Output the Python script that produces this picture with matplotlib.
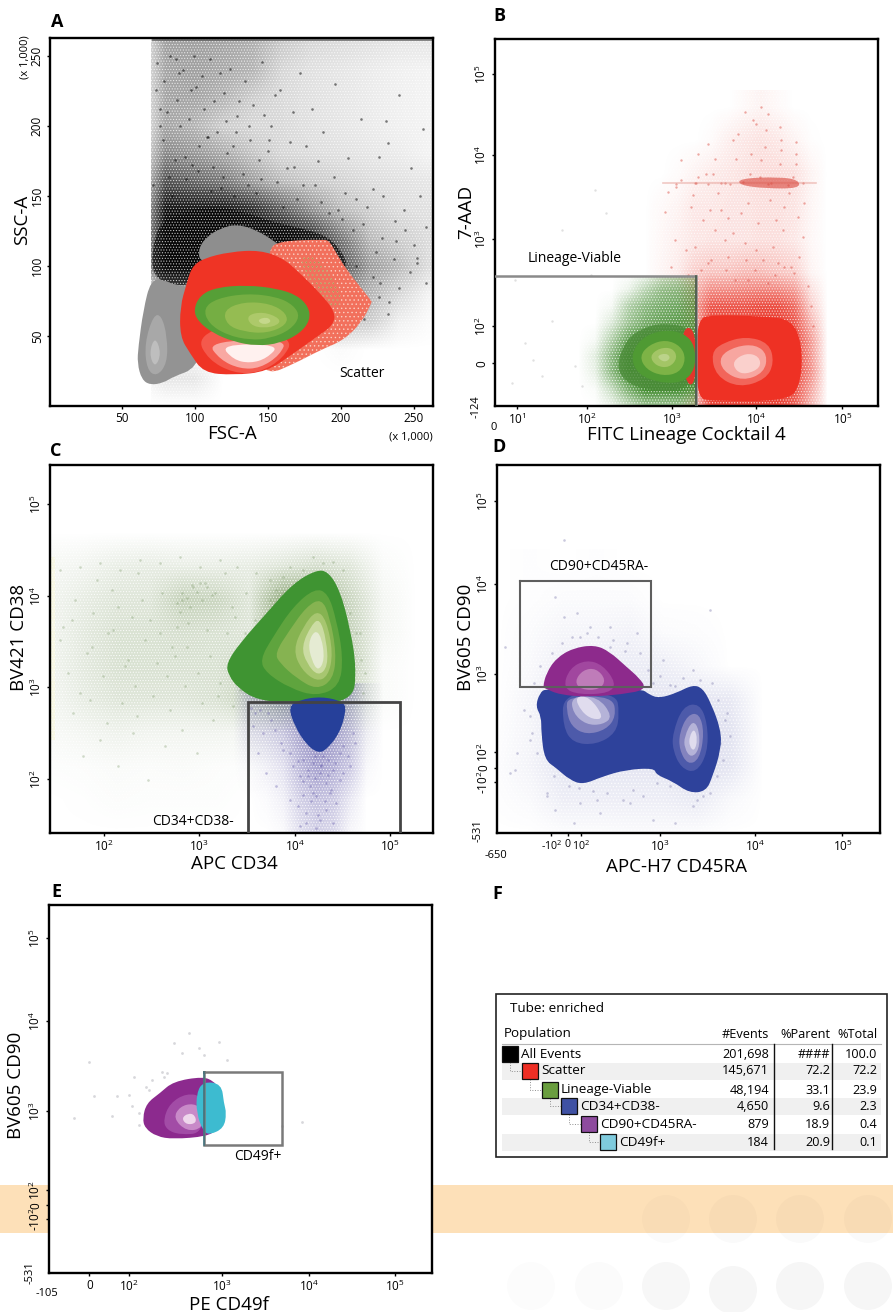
#!/usr/bin/env python3
"""Flow cytometry gating figure: five density plots and a population table."""

import matplotlib
matplotlib.use("Agg")
import matplotlib.pyplot as plt
from matplotlib.colors import LinearSegmentedColormap
from matplotlib.patches import Circle, PathPatch, Rectangle
from matplotlib.path import Path

plt.rcParams["font.family"] = ["Open Sans", "DejaVu Sans"]
plt.rcParams["mathtext.fontset"] = "custom"
plt.rcParams["mathtext.rm"] = "Open Sans"
plt.rcParams["mathtext.default"] = "regular"
plt.rcParams["hatch.linewidth"] = 0.5

W, H = 893, 1312

# Panel A, scale values in thousands
A_XTICKS = [50, 100, 150, 200, 250]
A_YTICKS = [50, 100, 150, 200, 250]
A_DENSITY_X = [40, 60, 80, 100, 120, 140, 160, 180, 200, 220, 240, 260]
A_DENSITY_Y = [260, 240, 220, 200, 180, 160, 140, 120, 100, 80, 60, 40, 20, 0]
A_DENSITY = [  # darkness of the event cloud, rows follow A_DENSITY_Y
    [0, 0, .38, .38, .36, .32, .22, .16, .14, .12, .10, .10],
    [0, 0, .36, .38, .34, .30, .16, .12, .10, .08, .06, .05],
    [0, 0, .36, .36, .30, .20, .15, .12, .10, .08, .06, .05],
    [0, 0, .36, .30, .20, .16, .15, .12, .10, .08, .06, .05],
    [0, 0, .48, .42, .34, .24, .16, .14, .12, .10, .08, .05],
    [0, 0, .70, .62, .55, .40, .28, .22, .18, .14, .12, .10],
    [0, .02, .95, .95, .95, .85, .65, .45, .28, .20, .14, .12],
    [0, .05, 1, 1, 1, .95, 1, .85, .55, .28, .20, .14],
    [0, .05, 1, 1, .80, .60, .80, .95, .70, .40, .28, .14],
    [0, 0, .05, .30, .20, .20, .40, .50, .45, .30, .16, .05],
    [0, 0, .03, .05, .05, .05, .10, .15, .25, .20, .06, .02],
    [0, 0, .02, 0, 0, 0, 0, 0, .02, 0, 0, 0],
    [0, 0, .10, .10, 0, 0, 0, 0, 0, 0, 0, 0],
    [0, 0, 0, 0, 0, 0, 0, 0, 0, 0, 0, 0],
]
A_CLOUD_CLIP = (70, 0, 193, 263)
A_BLACK_BAND = [(70.3, 92.4), (71.5, 118.6), (78.3, 132.9), (103.5, 142.4), (126.3, 141.2), (156, 130.5),
                (178.9, 125.7), (194.9, 118.6), (206.3, 99.5), (194.9, 99.5), (160.6, 118.6), (126.3, 132.9),
                (101.2, 113.8), (98.9, 87.6), (87.5, 85.7)]
A_EVENTS_X = [74, 79, 83, 88, 92, 96, 101, 106, 110, 115, 120, 124, 129, 134, 140, 146, 152, 158, 165, 172,
              180, 188, 196, 205, 214, 222, 232, 240, 248, 256, 78, 86, 94, 103, 112, 122, 133, 144, 156, 168,
              182, 195, 210, 226, 243, 76, 90, 108, 128, 150, 176, 203, 231, 254, 82, 98, 118, 142, 170, 198,
              215, 228, 237, 250, 258, 210, 222, 236, 247, 258, 226, 240, 252, 216, 232, 73, 81, 89, 97, 105,
              113, 121, 130, 138, 147, 155, 163, 71, 84, 93, 102, 111, 119, 127, 136, 145, 160, 174, 186, 201,
              218, 229, 244, 76, 87, 99, 109, 117, 126, 137, 151, 167, 184, 192, 208, 224, 238, 252, 227, 233]
A_EVENTS_Y = [245, 232, 250, 219, 240, 205, 228, 212, 248, 196, 224, 241, 207, 232, 215, 246, 200, 226, 189, 238,
              212, 196, 230, 177, 205, 155, 188, 222, 170, 198, 190, 176, 162, 186, 171, 181, 166, 176, 160, 171,
              158, 164, 148, 178, 140, 212, 200, 192, 196, 182, 186, 152, 204, 150, 164, 172, 156, 152, 148, 140,
              130, 120, 132, 115, 128, 100, 92, 105, 96, 88, 78, 84, 102, 62, 66, 226, 210, 238, 226, 236,
              218, 204, 218, 190, 208, 222, 170, 158, 150, 178, 168, 154, 164, 150, 158, 162, 142, 158, 146, 134,
              142, 150, 126, 200, 248, 250, 192, 238, 186, 200, 190, 210, 175, 138, 126, 110, 118, 106, 88, 74]
A_TOP_LINE_X = [71, 263]
A_TOP_LINE_Y = [261.5, 261.5]
A_GRAY_LEFT = [[(69.7, 90), (64.6, 68.6), (61.2, 42.4), (60.5, 30.5), (63.5, 19), (69.2, 15), (78.3, 16.5),
                (85.2, 21), (101, 27), (108, 52), (103.5, 85), (87.5, 85.7), (78.3, 90.5)],
               [(71.5, 65), (65.5, 44.8), (67, 26), (73.8, 21), (81, 30.5), (81, 49.5), (77, 65)],
               [(72.6, 50), (68.5, 37.6), (72.6, 27), (77, 37.6)]]
A_GRAY_COLORS = ["#939393", "#A8A8A8", "#BEBEBE"]
A_GRAY_TOP = [(102.3, 112.6), (108, 121), (117.2, 126.9), (128.6, 130), (142.3, 125.7), (154.9, 117.4),
              (165.2, 109), (160.6, 99.5), (126.3, 101.9), (103.5, 101.9)]
A_FRINGE = [(150, 112), (158.3, 118), (188, 119), (192, 118), (197, 109), (204, 97), (221, 75), (221, 74),
            (214.3, 60), (201.8, 47), (185.8, 40), (167.5, 30), (149.2, 22), (140, 40), (150, 80)]
A_FRINGE_TAN = [(167.5, 108), (183.5, 108), (201.8, 80.5), (196, 63.8)]
A_RED_LAYERS = [[(97.8, 99.5), (105.8, 105.5), (124, 110.2), (144.6, 111.4), (160.6, 105.5), (172, 94.8),
                 (185.8, 80.5), (196, 67.4), (194.9, 57.9), (183.5, 49.5), (167.5, 37.6), (149.2, 24.5),
                 (126.3, 22.1), (105.8, 23.8), (96.6, 37.6), (89.8, 49.5), (89.8, 71), (94.3, 87.6)],
                [(101.2, 49), (109.2, 33), (126.3, 23.5), (143.5, 23.5), (160.6, 34), (167.5, 49), (126.3, 60)],
                [(108, 46), (117.2, 33), (130.9, 26.5), (144.6, 27), (158.3, 36.5), (162.9, 48)],
                [(117.2, 44), (126.3, 33), (137.8, 30.5), (149.2, 34), (158.3, 44)]]
A_RED_COLORS = ["#EF3425", "#F4594C", "#F9A8A2", "#FFF1EF"]
A_GREEN_LAYERS = [[(98.9, 68.6), (103.5, 79.3), (114.9, 84.8), (135.5, 86.4), (156, 84), (169.8, 79.3), (177.8, 71),
                   (178.9, 61.4), (172, 51.9), (158.3, 44.8), (142.3, 42.9), (126.3, 46), (112.6, 51.9), (102.3, 60.2)],
                  [(105.8, 69.8), (114.9, 76.9), (135.5, 80.5), (156, 78.1), (167.5, 72.1), (172, 63.8), (165.2, 54.3),
                   (151.5, 48.3), (137.8, 47.1), (121.8, 50.7), (109.2, 59)],
                  [(119.5, 68.6), (133.2, 74.5), (151.5, 73.3), (162.9, 66.2), (162.9, 57.9), (149.2, 51.9),
                   (133.2, 53.1), (121.8, 57.9)],
                  [(135.5, 65), (146.9, 67.4), (158.3, 62.6), (157.2, 57.9), (146.9, 55.5), (137.8, 57.9)],
                  [(142.3, 61.4), (149.2, 63.8), (152.7, 60.2), (146.9, 57.9)]]
A_GREEN_COLORS = ["#569F37", "#75AE43", "#95BC52", "#ADC96A", "#C5D88B"]

# Panel B, display channels
B_XTICKS = [66, 277, 531, 784, 1044]
B_YTICKS = [128, 240, 503, 755, 1000]
B_GATE_X = [0, 604, 604]
B_GATE_Y = [392, 392, 0]
B_RED_GRID_X = [450, 500, 550, 600, 650, 700, 750, 800, 850, 900, 950, 1000]
B_RED_GRID_Y = [900, 800, 700, 600, 500, 400, 300, 200, 100, 0]
B_RED_GRID = [
    [0, 0, 0, 0, 0, 0, .03, .06, .03, 0, 0, 0],
    [0, 0, 0, 0, .02, .08, .12, .15, .12, .06, .01, 0],
    [0, 0, .02, .06, .10, .12, .15, .18, .18, .16, .06, 0],
    [0, .03, .06, .12, .12, .14, .14, .16, .16, .14, .05, 0],
    [0, .04, .08, .12, .14, .14, .14, .16, .16, .12, .04, 0],
    [0, .05, .10, .25, .30, .30, .35, .35, .30, .25, .06, 0],
    [0, 0, 0, .45, .85, .85, .85, .90, .90, .75, .25, 0],
    [0, 0, 0, .30, 1, 1, 1, 1, 1, .95, .50, 0],
    [0, 0, 0, .30, 1, 1, 1, 1, 1, .95, .55, 0],
    [0, 0, 0, .30, .95, .95, .95, .95, .95, .80, .35, 0],
]
B_GREEN_GRID_X = [250, 300, 350, 400, 450, 500, 550, 600]
B_GREEN_GRID_Y = [400, 350, 300, 250, 200, 150, 100, 50, 0]
B_GREEN_GRID = [
    [0, 0, 0, 0, .04, .20, .30, .30],
    [0, 0, 0, .10, .35, .55, .60, .60],
    [0, 0, .05, .40, .60, .70, .75, .75],
    [0, 0, .18, .50, .70, .80, .85, .80],
    [0, .04, .40, .80, 1, 1, 1, .90],
    [0, .15, .60, 1, 1, 1, 1, 1],
    [0, .12, .60, 1, 1, 1, 1, 1],
    [0, .03, .30, .70, 1, 1, 1, .85],
    [0, 0, .10, .30, .50, .50, .50, .40],
]
B_GREEN_CLIP = (0, 0, 604, 392)
B_GREEN_DARK = [(364, 120), (394, 200), (444, 235), (504, 250), (599, 235), (599, 70), (534, 42), (454, 50), (394, 70)]
B_RED_STRIPE = [(734, 685), (854, 690), (914, 680), (914, 655), (814, 655), (734, 665)]
B_STRIPE_X = [504, 964]
B_STRIPE_Y = [670, 670]
B_RED_LAYERS = [[(604, 260), (654, 275), (804, 270), (894, 260), (924, 180), (919, 70), (884, 15), (654, 15), (604, 25)],
                [(649, 160), (684, 190), (754, 210), (824, 190), (839, 130), (814, 80), (734, 55), (664, 90)],
                [(674, 150), (724, 180), (784, 185), (819, 155), (809, 100), (744, 75), (684, 105)],
                [(714, 135), (754, 160), (794, 150), (799, 115), (754, 95), (724, 105)]]
B_RED_COLORS = ["#EE3124", "#F2655A", "#F7A6A0", "#FAD0CC"]
B_RED_WEDGE = [(559, 235), (604, 235), (604, 60), (569, 70)]
B_GREEN_LAYERS = [[(407, 150), (439, 205), (504, 230), (569, 220), (602, 180), (602, 110), (564, 70), (494, 70), (429, 95)],
                  [(434, 150), (464, 185), (514, 200), (559, 180), (574, 140), (554, 100), (504, 90), (454, 110)],
                  [(464, 150), (494, 175), (534, 175), (549, 145), (524, 115), (484, 120)],
                  [(484, 150), (514, 160), (529, 145), (509, 130)]]
B_GREEN_COLORS = ["#4F9A33", "#7DB346", "#A3C566", "#BBD38A"]
B_RED_EVENTS_X = [520, 560, 605, 640, 690, 730, 775, 820, 860, 905, 540, 590, 625, 670, 715, 760, 800, 845, 885, 925,
                  530, 575, 620, 660, 700, 750, 790, 835, 870, 915, 560, 610, 655, 705, 745, 795, 830, 880, 925, 905,
                  580, 650, 720, 780, 840, 890, 700, 760, 820, 870, 940, 950, 955, 510, 545, 595, 635, 680, 725, 765,
                  810, 855, 895, 930, 600, 645, 690, 740, 785, 825, 865, 910, 640, 695, 755, 805, 850, 900, 610, 660,
                  715, 770, 815, 860, 905, 750, 785, 820, 855, 800, 680, 640, 600, 545]
B_RED_EVENTS_Y = [645, 740, 670, 790, 672, 820, 860, 668, 800, 730, 500, 600, 560, 640, 520, 610, 740, 560, 640, 510,
                  420, 470, 410, 530, 450, 490, 550, 480, 420, 450, 680, 690, 700, 668, 675, 690, 672, 665, 672, 795,
                  395, 440, 380, 410, 395, 420, 565, 380, 370, 600, 360, 300, 240, 585, 660, 635, 700, 590, 745, 700,
                  780, 730, 690, 610, 480, 590, 500, 580, 470, 620, 530, 570, 430, 410, 440, 440, 430, 400, 760, 745,
                  800, 760, 830, 770, 760, 885, 850, 880, 840, 900, 670, 668, 672, 668]
B_FAINT_X = [90, 140, 170, 200, 115, 50, 260, 300, 335, 240, 60, 290]
B_FAINT_Y = [190, 90, 255, 530, 140, 70, 60, 650, 580, 120, 380, 395]

# Panel C, display channels
C_XTICKS = [163, 448, 735, 1022]
C_YTICKS = [162, 438, 712, 988]
C_GATE_X = [595, 595, 1050, 1050]
C_GATE_Y = [0, 392, 392, 0]
C_GREEN_GRID_X = [0, 100, 200, 300, 400, 500, 600, 700, 800, 900, 1000, 1100]
C_GREEN_GRID_Y = [900, 800, 700, 600, 500, 400, 300, 200, 100, 0]
C_GREEN_GRID = [
    [0, 0, 0, 0, 0, 0, 0, 0, 0, 0, 0, 0],
    [.08, .12, .20, .22, .20, .20, .22, .30, .40, .30, .05, 0],
    [.12, .22, .30, .30, .55, .50, .30, 1, 1, .50, .10, 0],
    [.12, .25, .35, .35, .38, .35, .30, 1, 1, .55, .10, 0],
    [.12, .25, .35, .35, .35, .35, .45, 1, 1, .60, .05, 0],
    [.10, .22, .30, .30, .30, .35, .50, .90, .90, .50, .05, 0],
    [.06, .10, .15, .12, .12, .12, .10, .05, .10, .10, 0, 0],
    [.02, .03, .05, .04, .05, .03, .02, 0, 0, 0, 0, 0],
    [0, .01, .03, .02, .02, .02, 0, 0, 0, 0, 0, 0],
    [0, 0, 0, 0, 0, 0, 0, 0, 0, 0, 0, 0],
]
C_BLUE_GRID_X = [550, 600, 650, 700, 750, 800, 850, 900, 950, 1000]
C_BLUE_GRID_Y = [400, 300, 200, 100, 0]
C_BLUE_GRID = [
    [0, .30, .30, .40, .50, .50, .50, .40, .10, 0],
    [0, .18, .25, .35, .55, .70, .60, .40, .10, 0],
    [0, .03, .10, .20, .45, .60, .50, .35, .05, 0],
    [0, 0, .03, .10, .30, .40, .35, .15, 0, 0],
    [0, 0, 0, .03, .20, .30, .25, .05, 0, 0],
]
C_GREEN_LAYERS = [[(530, 510), (570, 570), (650, 660), (730, 750), (800, 790), (835, 785), (870, 730), (900, 620),
                   (920, 500), (910, 390), (720, 390), (620, 400), (565, 435), (535, 475)],
                  [(630, 520), (670, 590), (730, 680), (795, 735), (835, 720), (860, 640), (880, 530), (870, 440),
                   (800, 410), (720, 435), (650, 480)],
                  [(675, 540), (720, 610), (770, 680), (815, 705), (840, 650), (860, 540), (850, 460), (800, 430),
                   (740, 465), (690, 510)],
                  [(730, 550), (760, 620), (800, 670), (830, 640), (850, 540), (835, 470), (800, 455), (755, 490)],
                  [(755, 560), (785, 625), (810, 645), (830, 580), (835, 500), (805, 470), (770, 510)],
                  [(775, 570), (795, 610), (815, 590), (825, 520), (805, 485), (785, 520)]]
C_GREEN_COLORS = ["#3F9432", "#5FA43E", "#86B351", "#A7C670", "#CBDCA3", "#E5EBD3"]
C_BLUE = [(715, 380), (750, 400), (815, 410), (880, 395), (890, 370), (870, 300), (830, 250), (805, 240), (770, 265), (735, 320)]
C_GREEN_EVENTS_X = [40, 75, 110, 140, 175, 205, 235, 265, 300, 335, 365, 395, 430, 465, 495, 525, 555, 585, 625, 660,
                    55, 90, 125, 160, 190, 225, 255, 285, 320, 350, 380, 410, 445, 480, 510, 540, 570, 600, 640, 680,
                    70, 120, 170, 215, 260, 310, 360, 405, 455, 505, 550, 600, 650, 720, 790, 850, 900, 935, 940, 930,
                    100, 150, 205, 250, 295, 345, 395, 440, 490, 380, 395, 410, 425, 440, 455, 470, 485, 390, 420, 450,
                    30, 65, 130, 185, 245, 275, 330, 375, 415, 470, 530, 575, 615, 545, 590, 630, 30, 90, 150, 210,
                    270, 330, 390, 450, 510, 560, 620, 660, 700, 760, 820, 880, 920, 945]
C_GREEN_EVENTS_Y = [620, 700, 540, 760, 600, 680, 520, 780, 640, 720, 560, 700, 740, 750, 720, 780, 650, 600, 560, 700,
                    480, 420, 560, 470, 610, 500, 440, 580, 510, 470, 620, 560, 480, 530, 450, 520, 430, 480, 440, 730,
                    360, 400, 330, 390, 350, 410, 370, 440, 390, 410, 380, 420, 400, 800, 830, 815, 660, 520, 420, 600,
                    230, 280, 200, 300, 160, 260, 310, 240, 340, 690, 720, 705, 745, 725, 700, 740, 715, 665, 680, 750,
                    580, 640, 660, 730, 650, 700, 600, 530, 630, 610, 600, 560, 640, 680, 720, 470, 790, 800, 810, 790,
                    820, 810, 830, 800, 820, 800, 780, 760, 770, 790, 810, 790, 600, 480]
C_BLUE_EVENTS_X = [615, 640, 665, 700, 730, 760, 790, 820, 850, 880, 910, 625, 680, 720, 750, 780, 810, 840, 870, 900,
                   745, 770, 800, 830, 860, 770, 810, 850, 790, 830, 610, 650, 750, 800, 870, 605, 630, 655, 675, 695,
                   720, 745, 775, 795, 815, 835, 855, 880, 895, 915, 760, 785, 805, 825, 845, 775, 795, 815, 835, 760]
C_BLUE_EVENTS_Y = [360, 300, 340, 250, 200, 220, 210, 230, 190, 260, 300, 240, 140, 100, 170, 140, 180, 120, 160, 200,
                   80, 60, 110, 70, 90, 30, 40, 30, 120, 150, 320, 180, 20, 15, 240, 375, 370, 360, 310, 270,
                   240, 215, 190, 165, 205, 175, 210, 180, 230, 270, 115, 95, 55, 95, 130, 170, 230, 200, 220, 155]

# Panel D, display channels
D_XTICKS = [163, 213, 251, 491, 776, 1038]
D_YTICKS = [152, 195, 243, 477, 748, 997]
D_GATE_X = [69, 462, 462, 69, 69]
D_GATE_Y = [756, 756, 438, 438, 756]
D_GRID_X = [0, 100, 200, 300, 400, 500, 600, 700, 800]
D_GRID_Y = [800, 700, 600, 500, 400, 300, 200, 100, 0]
D_GRID = [
    [0, .01, 0, .01, 0, 0, 0, 0, 0],
    [0, .01, .03, .03, .03, 0, 0, 0, 0],
    [0, .03, .07, .07, .09, .03, .02, 0, 0],
    [0, .04, .12, .12, .14, .12, .06, 0, 0],
    [0, .07, .18, .18, .18, .18, .18, .16, 0],
    [.01, .07, .18, .18, .18, .18, .24, .20, 0],
    [.02, .08, .18, .18, .18, .18, .24, .18, 0],
    [.01, .04, .12, .12, .12, .12, .15, .05, 0],
    [0, 0, .02, .02, .03, .03, .02, 0, 0],
]
D_BLUE = [(116, 380), (128, 420), (148, 435), (433, 435), (458, 415), (488, 405), (538, 420), (588, 445), (618, 435),
          (643, 390), (673, 310), (673, 250), (648, 170), (628, 125), (578, 120), (528, 155), (478, 175), (473, 195),
          (388, 190), (318, 170), (258, 145), (218, 160), (178, 195), (143, 220), (133, 300), (133, 350)]
D_BLUE_LEFT = [[(198, 420), (358, 420), (368, 360), (358, 300), (298, 265), (228, 270), (198, 320)],
               [(213, 410), (348, 410), (358, 350), (328, 310), (268, 295), (223, 320), (208, 370)],
               [(223, 410), (303, 410), (348, 350), (318, 325), (268, 325), (228, 360)],
               [(233, 410), (278, 410), (323, 345), (288, 340), (253, 365)]]
D_BLUE_RIGHT = [[(528, 300), (558, 380), (608, 390), (633, 330), (633, 240), (598, 180), (553, 195), (528, 250)],
                [(548, 300), (573, 355), (608, 360), (623, 300), (608, 220), (573, 205), (548, 250)],
                [(563, 290), (588, 340), (608, 310), (608, 250), (583, 225), (563, 255)],
                [(578, 290), (593, 315), (603, 280), (593, 245), (578, 260)]]
D_BLUE_COLORS = ["#4D5AAA", "#8383BE", "#B5B3D8", "#E0DCEE"]
D_PURPLE_LAYERS = [[(138, 438), (148, 480), (178, 525), (228, 555), (293, 565), (338, 545), (388, 500), (428, 465),
                    (448, 435), (408, 420), (278, 408), (188, 415), (143, 435)],
                   [(198, 435), (218, 495), (268, 520), (318, 505), (358, 450), (338, 420), (248, 415)],
                   [(233, 455), (258, 490), (298, 495), (328, 460), (308, 430), (253, 430)]]
D_PURPLE_COLORS = ["#8D2A8C", "#A1479F", "#BF7CB9"]
D_EVENTS_X = [25, 60, 40, 55, 80, 100, 150, 200, 175, 240, 340, 250, 200, 280, 340, 390, 420, 470, 500, 535, 590, 640,
              650, 690, 670, 640, 150, 175, 245, 250, 310, 400, 470, 535, 590, 230, 440, 110, 130, 165, 195, 225, 270,
              305, 350, 385, 430, 455, 490, 520, 560, 610, 645, 665, 685, 700, 680, 660, 620, 560, 480, 410, 330, 290,
              215, 170, 120, 105, 100, 300, 380, 520, 600]
D_EVENTS_Y = [560, 240, 180, 190, 370, 280, 120, 880, 710, 660, 620, 590, 650, 620, 560, 570, 600, 450, 520, 440, 490,
              670, 360, 360, 270, 120, 110, 70, 135, 90, 60, 90, 40, 30, 80, 30, 110, 450, 500, 540, 570, 590, 600,
              590, 580, 545, 540, 490, 470, 445, 465, 460, 450, 400, 340, 290, 220, 170, 110, 140, 150, 130, 120, 125,
              140, 170, 240, 300, 350, 100, 100, 140, 100]

# Panel E, display channels
E_XTICKS = [121, 241, 518, 781, 1038]
E_YTICKS = [162, 203, 250, 485, 757, 1005]
E_GATE_X = [465, 699, 699, 465, 465]
E_GATE_Y = [603, 603, 385, 385, 603]
E_GATE_EDGE_X = [465, 465]
E_GATE_EDGE_Y = [385, 603]
E_PURPLE_LAYERS = [[(281, 465), (293, 510), (333, 540), (373, 575), (463, 590), (495, 575), (505, 560), (505, 480),
                    (505, 430), (473, 410), (373, 402), (323, 410), (288, 435)],
                   [(343, 460), (363, 510), (413, 540), (463, 530), (463, 420), (393, 415), (353, 430)],
                   [(373, 465), (393, 500), (433, 510), (463, 490), (463, 435), (413, 425)],
                   [(398, 465), (418, 480), (438, 475), (443, 450), (413, 445)]]
E_PURPLE_COLORS = ["#8C2A8E", "#A24CA6", "#C88AC8", "#EFD7EC"]
E_CYAN = [(443, 540), (463, 575), (518, 568), (525, 510), (533, 480), (525, 435), (483, 415), (463, 425), (443, 480)]
E_EVENTS_X = [75, 120, 135, 190, 205, 240, 255, 270, 290, 340, 375, 420, 450, 465, 510, 535, 355, 310, 400, 700, 760,
              250, 300, 345, 270, 310]
E_EVENTS_Y = [465, 635, 530, 470, 530, 535, 590, 480, 560, 605, 690, 720, 675, 655, 695, 640, 600, 440, 660, 440, 452,
              500, 550, 590, 445, 580]

# Panel F table
TABLE_NAMES = ["All Events", "Scatter", "Lineage-Viable", "CD34+CD38-", "CD90+CD45RA-", "CD49f+"]
TABLE_EVENTS = ["201,698", "145,671", "48,194", "4,650", "879", "184"]
TABLE_PARENT = ["####", "72.2", "33.1", "9.6", "18.9", "20.9"]
TABLE_TOTAL = ["100.0", "72.2", "23.9", "2.3", "0.4", "0.1"]
TABLE_COLORS = ["#000000", "#EE2E24", "#6A9E3F", "#3F51A3", "#8E4B9E", "#7FCBDD"]
TABLE_ROW_Y = [1054, 1071, 1090, 1106, 1124, 1142]
TABLE_SWATCH_X = [502, 522, 542, 561, 581, 600]

POW = [r"$10^{%d}$" % n for n in range(0, 6)]

fig = plt.figure(figsize=(W / 100, H / 100), dpi=100, facecolor="white")


def smooth(points):
    """Closed shape with quadratic curves through the edge midpoints."""
    mids = [((points[i][0] + points[(i + 1) % len(points)][0]) / 2,
             (points[i][1] + points[(i + 1) % len(points)][1]) / 2) for i in range(len(points))]
    verts = [mids[-1]]
    codes = [Path.MOVETO]
    for i, p in enumerate(points):
        verts += [p, mids[i]]
        codes += [Path.CURVE3, Path.CURVE3]
    return Path(verts, codes)


def blob(ax, points, color, alpha=1.0, z=3):
    ax.add_patch(PathPatch(smooth(points), fc=color, ec="none", lw=0, alpha=alpha, zorder=z))


def layers(ax, shapes, colors, z=3):
    for shape, color in zip(shapes, colors):
        blob(ax, shape, color, z=z)


def haze(ax, grid, xs, ys, color, clip=None, z=1):
    cmap = LinearSegmentedColormap.from_list("haze", [color + "00", color + "FF"])
    dx = (xs[1] - xs[0]) / 2
    dy = (ys[0] - ys[1]) / 2
    xlim, ylim = ax.get_xlim(), ax.get_ylim()
    im = ax.imshow(grid, cmap=cmap, vmin=0, vmax=1, aspect="auto", interpolation="bilinear",
                   extent=(xs[0] - dx, xs[-1] + dx, ys[-1] - dy, ys[0] + dy), zorder=z)
    if clip:
        im.set_clip_path(Rectangle(clip[:2], clip[2], clip[3], transform=ax.transData))
    ax.set_xlim(*xlim)
    ax.set_ylim(*ylim)


def grain(ax, hatch="......", z=1.5, alpha=0.8):
    # white specks break the cloud up, they do not show on the empty page
    ax.add_patch(Rectangle((0, 0), 1, 1, transform=ax.transAxes, fc="none", ec="white", lw=0,
                           hatch=hatch, alpha=alpha, zorder=z))


def panel(box, xlim, ylim, xticks, xlabels, yticks, ylabels, xlabel, xlabel_at, ylabel, ylabel_at):
    left, top, right, bottom = box
    ax = fig.add_axes([left / W, 1 - bottom / H, (right - left) / W, (bottom - top) / H], zorder=5)
    ax.set_xlim(*xlim)
    ax.set_ylim(*ylim)
    ax.set_xticks(xticks, xlabels, fontsize=8.5)
    ax.set_yticks(yticks, ylabels, fontsize=8.5, rotation=90, va="center")
    ax.tick_params(length=2.5, width=1, pad=2)
    for spine in ax.spines.values():
        spine.set_linewidth(1.7)
    ax.set_xlabel(xlabel, fontsize=13.5)
    ax.set_ylabel(ylabel, fontsize=13.5)
    ax.xaxis.set_label_coords((xlabel_at[0] - left) / (right - left), (bottom - xlabel_at[1]) / (bottom - top))
    ax.yaxis.set_label_coords((ylabel_at[0] - left) / (right - left), (bottom - ylabel_at[1]) / (bottom - top))
    ax.xaxis.label.set_verticalalignment("center")
    ax.yaxis.label.set_verticalalignment("center")
    return ax


def events(ax, xs, ys, color, alpha=0.4, size=2.5, z=2):
    ax.scatter(xs, ys, s=size, c=color, alpha=alpha, linewidths=0, zorder=z)


# page background
bg = fig.add_axes([0, 0, 1, 1], zorder=0)
bg.set_xlim(0, W)
bg.set_ylim(H, 0)
bg.axis("off")
bg.add_patch(Rectangle((0, 1185), W, 48, fc="#FDE0B8", ec="none"))
for cx, cy, alpha in [(666, 1219, .015), (733, 1219, .02), (800, 1219, .02), (868, 1219, .02),
                      (531, 1286, .012), (599, 1286, .015), (666, 1286, .03), (733, 1290, .035),
                      (800, 1286, .035), (868, 1286, .035)]:
    bg.add_patch(Circle((cx, cy), 24, fc="black", ec="none", alpha=alpha))

# Panel A
ax = panel((50, 38, 433, 406), (0.7, 263), (0, 263), A_XTICKS, [str(t) for t in A_XTICKS],
           A_YTICKS, [str(t) for t in A_YTICKS], "FSC-A", (232, 434), "SSC-A", (22, 220))
haze(ax, A_DENSITY, A_DENSITY_X, A_DENSITY_Y, "#050505", clip=A_CLOUD_CLIP)
blob(ax, A_BLACK_BAND, "#080808", alpha=0.7, z=1.2)
grain(ax, "......", alpha=0.7)
events(ax, A_EVENTS_X, A_EVENTS_Y, "black", alpha=0.5, size=3.5)
ax.plot(A_TOP_LINE_X, A_TOP_LINE_Y, color="#5A5A5A", lw=1.4, alpha=0.7, zorder=2)
layers(ax, A_GRAY_LEFT, A_GRAY_COLORS)
blob(ax, A_GRAY_TOP, "#8E8E8E")
blob(ax, A_FRINGE, "#F2705C")
ax.add_patch(PathPatch(smooth(A_FRINGE), fc="none", ec="#FBD0C4", lw=0, hatch="....", zorder=3))
ax.add_patch(PathPatch(smooth(A_FRINGE_TAN), fc="none", ec="#A59A4F", lw=0, hatch="....", alpha=0.9, zorder=3))
layers(ax, A_RED_LAYERS, A_RED_COLORS)
layers(ax, A_GREEN_LAYERS, A_GREEN_COLORS)
ax.text(199, 23, "Scatter", fontsize=10, ha="left", va="center", zorder=6)

# Panel B
ax = panel((495, 39, 878, 406), (0, 1151), (0, 1105), B_XTICKS, [POW[n] for n in range(1, 6)],
           B_YTICKS, ["0"] + [POW[n] for n in range(2, 6)], "FITC Lineage Cocktail 4", (686, 435), "7-AAD", (466, 212))
haze(ax, B_RED_GRID, B_RED_GRID_X, B_RED_GRID_Y, "#E9392C")
haze(ax, B_GREEN_GRID, B_GREEN_GRID_X, B_GREEN_GRID_Y, "#3F8A2C", clip=B_GREEN_CLIP, z=1.1)
grain(ax, "......", alpha=0.7)
events(ax, B_FAINT_X, B_FAINT_Y, "#9A9A9A", alpha=0.3, size=3)
events(ax, B_RED_EVENTS_X, B_RED_EVENTS_Y, "#D9453A", alpha=0.45, size=3)
ax.plot(B_STRIPE_X, B_STRIPE_Y, color="#E08A80", lw=1.2, alpha=0.45, zorder=2)
blob(ax, B_RED_STRIPE, "#D9453A", alpha=0.6)
layers(ax, B_RED_LAYERS[:1], B_RED_COLORS[:1])
blob(ax, B_GREEN_DARK, "#4C8C3A", alpha=0.8)
blob(ax, B_RED_WEDGE, "#E4352B")
layers(ax, B_GREEN_LAYERS, B_GREEN_COLORS)
layers(ax, B_RED_LAYERS[1:], B_RED_COLORS[1:])
ax.plot(B_GATE_X, B_GATE_Y, color="#8A8A8A", lw=1.8, zorder=4, solid_joinstyle="miter")
ax.plot(B_GATE_X[1:], B_GATE_Y[1:], color="#4A5A4A", lw=1.2, zorder=4)
ax.text(99, 445, "Lineage-Viable", fontsize=10, ha="left", va="center", zorder=6)

# Panel C
ax = panel((50, 465, 433, 833), (0, 1150), (0, 1105), C_XTICKS, [POW[n] for n in range(2, 6)],
           C_YTICKS, [POW[n] for n in range(2, 6)], "APC CD34", (234, 864), "BV421 CD38", (19, 637))
haze(ax, C_GREEN_GRID, C_GREEN_GRID_X, C_GREEN_GRID_Y, "#94AC80")
haze(ax, C_BLUE_GRID, C_BLUE_GRID_X, C_BLUE_GRID_Y, "#6A62AE", z=1.1)
ax.add_patch(Rectangle((0, 280), 14, 550, fc="#F8F8E4", ec="none", zorder=1))
grain(ax, "......", alpha=0.8)
events(ax, C_GREEN_EVENTS_X, C_GREEN_EVENTS_Y, "#7F9A6C", alpha=0.35, size=3.5)
events(ax, C_BLUE_EVENTS_X, C_BLUE_EVENTS_Y, "#6A62AE", alpha=0.4, size=3.5)
layers(ax, C_GREEN_LAYERS, C_GREEN_COLORS)
blob(ax, C_BLUE, "#26409A")
ax.plot(C_GATE_X, C_GATE_Y, color="#444444", lw=2, zorder=4, solid_joinstyle="miter")
ax.text(308, 35, "CD34+CD38-", fontsize=10, ha="left", va="center", zorder=6)

# Panel D
ax = panel((497, 465, 880, 833), (0, 1151), (0, 1105), D_XTICKS,
           ["-" + POW[2], "0", POW[2], POW[3], POW[4], POW[5]],
           D_YTICKS, ["-" + POW[2], "0", POW[2], POW[3], POW[4], POW[5]],
           "APC-H7 CD45RA", (676, 867), "BV605 CD90", (466, 637))
for tick_label in ax.get_xticklabels()[:3]:
    tick_label.set_fontsize(7.6)
haze(ax, D_GRID, D_GRID_X, D_GRID_Y, "#6E72B8")
grain(ax, ".....", alpha=0.8)
events(ax, D_EVENTS_X, D_EVENTS_Y, "#8A88B5", alpha=0.45, size=3.5)
blob(ax, D_BLUE, "#2E429B")
layers(ax, D_BLUE_LEFT, D_BLUE_COLORS)
layers(ax, D_BLUE_RIGHT, D_BLUE_COLORS)
layers(ax, D_PURPLE_LAYERS, D_PURPLE_COLORS)
ax.plot(D_GATE_X, D_GATE_Y, color="#5E5E5E", lw=1.5, zorder=4, solid_joinstyle="miter")
ax.text(158, 800, "CD90+CD45RA-", fontsize=10, ha="left", va="center", zorder=6)

# Panel E
ax = panel((49, 905, 432, 1273), (0, 1150), (0, 1105), E_XTICKS, ["0"] + [POW[n] for n in range(2, 6)],
           E_YTICKS, ["-" + POW[2], "0", POW[2], POW[3], POW[4], POW[5]],
           "PE CD49f", (229, 1305), "BV605 CD90", (16, 1085))
events(ax, E_EVENTS_X, E_EVENTS_Y, "#A8A8B0", alpha=0.45, size=4)
layers(ax, E_PURPLE_LAYERS, E_PURPLE_COLORS)
blob(ax, E_CYAN, "#3DBBD0")
ax.plot(E_GATE_X, E_GATE_Y, color="#7A7A7A", lw=1.8, zorder=4, solid_joinstyle="miter")
ax.plot(E_GATE_EDGE_X, E_GATE_EDGE_Y, color="#1F6F80", lw=1.2, alpha=0.6, zorder=4)
ax.text(555, 350, "CD49f+", fontsize=10, ha="left", va="center", zorder=6)

# letters, stray axis texts and the table sit on a top layer
top = fig.add_axes([0, 0, 1, 1], zorder=10)
top.patch.set_alpha(0)
top.set_xlim(0, W)
top.set_ylim(H, 0)
top.axis("off")
for letter, x, y in [("A", 57, 22), ("B", 499, 16), ("C", 56, 451), ("D", 499, 447), ("E", 56, 892), ("F", 497, 894)]:
    top.text(x, y, letter, fontsize=13, fontweight="bold", ha="center", va="center")
for text, x, y, rot in [("(x 1,000)", 25, 57, 90), ("(x 1,000)", 411, 437, 0), ("-124", 476, 407, 90), ("0", 494, 427, 0),
                        ("-531", 478, 831, 90), ("-650", 496, 855, 0), ("-531", 30, 1273, 90), ("-105", 47, 1293, 0)]:
    top.text(x, y, text, fontsize=8, rotation=rot, ha="center", va="center")

top.add_patch(Rectangle((496, 994), 391, 163, fc="white", ec="#222222", lw=1.2, zorder=1))
top.text(510, 1008, "Tube: enriched", fontsize=9.7, va="center")
top.text(504, 1034, "Population", fontsize=9.6, va="center")
for text, x in [("#Events", 769), ("%Parent", 830), ("%Total", 877)]:
    top.text(x, 1034, text, fontsize=9.2, ha="right", va="center")
top.plot([502, 881], [1044, 1044], color="#B5B5B5", lw=0.8)
for i in range(6):
    y = TABLE_ROW_Y[i]
    if i % 2:
        top.add_patch(Rectangle((502, y - 8.5), 379, 17, fc="#F0F0F0", ec="none", zorder=1))
    sx = TABLE_SWATCH_X[i]
    top.add_patch(Rectangle((sx, y - 8), 16, 16, fc=TABLE_COLORS[i], ec="#111111", lw=0.9, zorder=3))
    if i:
        px = TABLE_SWATCH_X[i - 1] + 8
        top.plot([px, px, sx], [TABLE_ROW_Y[i - 1] + 8, y, y], color="#8F8F8F", lw=0.7, ls=":", zorder=2)
    top.text(sx + 19, y, TABLE_NAMES[i], fontsize=9.7, va="center", zorder=4)
    top.text(769, y, TABLE_EVENTS[i], fontsize=9.1, ha="right", va="center", zorder=4)
    top.text(830, y, TABLE_PARENT[i], fontsize=9.1, ha="right", va="center", zorder=4)
    top.text(877, y, TABLE_TOTAL[i], fontsize=9.1, ha="right", va="center", zorder=4)
for x in [774, 832]:
    top.plot([x, x], [1044, 1149], color="#111111", lw=1, zorder=4)

fig.savefig("out.png", dpi=100)
